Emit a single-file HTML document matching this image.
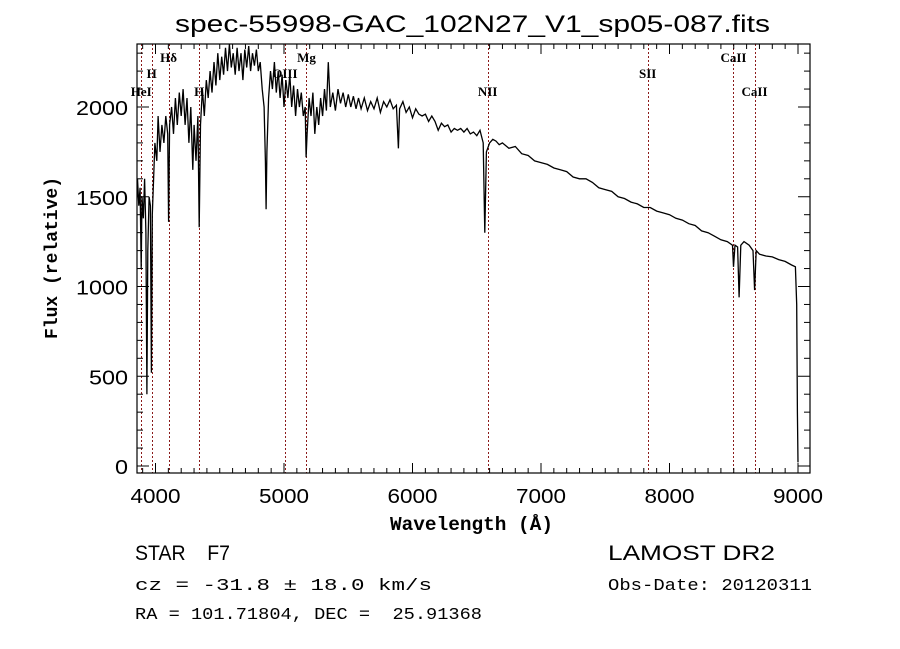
<!DOCTYPE html>
<html><head><meta charset="utf-8">
<style>
body{margin:0;background:#fff;width:900px;height:649px;overflow:hidden;font-family:"Liberation Sans",sans-serif}
svg{display:block}
.mono{font-family:"Liberation Mono",monospace}
</style></head>
<body>
<svg id="chart" width="900" height="649" xmlns="http://www.w3.org/2000/svg">
<defs><clipPath id="plotclip"><rect x="137" y="44" width="673" height="429"/></clipPath></defs>
<text x="175" y="32" font-size="24" font-family="Liberation Sans" textLength="595" lengthAdjust="spacingAndGlyphs">spec-55998-GAC_102N27_V1_sp05-087.fits</text>
<g id="lines" clip-path="url(#plotclip)"></g>
<g id="spec" clip-path="url(#plotclip)"></g>
<g id="axes"></g>
<text x="390" y="530" font-size="19" font-weight="bold" class="mono" textLength="163" lengthAdjust="spacingAndGlyphs">Wavelength (Å)</text>
<text transform="translate(57,258) rotate(-90)" text-anchor="middle" font-size="18" font-weight="bold" class="mono">Flux (relative)</text>
<text x="135" y="560" font-size="21" font-family="Liberation Sans" textLength="95" lengthAdjust="spacingAndGlyphs" xml:space="preserve">STAR    F7</text>
<text x="135" y="590" font-size="17" class="mono" textLength="297" lengthAdjust="spacingAndGlyphs">cz = -31.8 ± 18.0 km/s</text>
<text x="135" y="619" font-size="17" class="mono" textLength="347" lengthAdjust="spacingAndGlyphs" xml:space="preserve">RA = 101.71804, DEC =  25.91368</text>
<text x="608" y="560" font-size="21" font-family="Liberation Sans" textLength="167" lengthAdjust="spacingAndGlyphs">LAMOST DR2</text>
<text x="608" y="590" font-size="17" class="mono" textLength="204" lengthAdjust="spacingAndGlyphs">Obs-Date: 20120311</text>
</svg>
<script>
const wave=[3850,3860,3870,3880,3889,3895,3905,3915,3925,3933,3940,3950,3960,3968,3975,3985,3995,4010,4020,4035,4050,4065,4080,4095,4102,4110,4125,4140,4155,4170,4185,4200,4215,4230,4245,4260,4275,4290,4300,4315,4330,4340,4350,4365,4380,4395,4410,4425,4440,4455,4470,4485,4500,4515,4530,4545,4560,4575,4590,4605,4620,4635,4650,4665,4680,4695,4710,4725,4740,4755,4770,4785,4800,4815,4830,4845,4855,4861,4867,4880,4895,4910,4925,4940,4955,4970,4985,5000,5015,5030,5045,5060,5075,5090,5105,5120,5135,5150,5165,5172,5180,5195,5210,5225,5240,5255,5270,5285,5300,5315,5330,5345,5360,5380,5400,5420,5440,5460,5480,5500,5520,5540,5560,5580,5600,5625,5650,5675,5700,5725,5750,5775,5800,5825,5850,5875,5890,5900,5925,5950,5975,6000,6025,6050,6075,6100,6125,6150,6175,6200,6225,6250,6275,6300,6325,6350,6375,6400,6425,6450,6475,6500,6525,6550,6563,6575,6600,6625,6650,6675,6700,6750,6800,6850,6900,6950,7000,7050,7100,7150,7200,7250,7300,7350,7400,7450,7500,7550,7600,7650,7700,7750,7800,7850,7900,7950,8000,8050,8100,8150,8200,8250,8300,8350,8400,8450,8490,8498,8510,8530,8542,8555,8580,8620,8650,8662,8675,8700,8750,8800,8850,8900,8950,8980,8990,8995,9000];
const flux=[1350,1600,1450,1550,1100,1500,1380,1600,1300,400,1200,1500,1450,520,1400,1600,1800,1700,1950,1750,1900,1800,1950,1850,1360,1900,2000,1850,2050,1900,2080,1950,2100,1900,2050,1800,2000,1650,1900,1700,1950,1330,1900,2100,1950,2150,2050,2200,2080,2250,2120,2300,2150,2280,2180,2330,2200,2350,2220,2300,2180,2330,2200,2300,2150,2320,2220,2340,2200,2300,2230,2320,2200,2250,2100,2000,1700,1430,1750,2050,2200,2100,2250,2080,2200,2050,2180,2000,2150,2050,2180,2000,2120,1950,2100,2000,2080,1950,2000,1720,1850,2050,1950,2080,1850,2000,1900,2050,1950,2100,1980,2250,2000,2080,1980,2100,2020,2080,2000,2070,2000,2060,1990,2050,1990,2050,1980,2030,1990,2050,1970,2030,2000,2040,1990,2010,1770,1990,2030,1970,2000,1940,1990,1960,1950,1960,1920,1950,1920,1870,1910,1890,1900,1860,1880,1870,1880,1860,1880,1850,1860,1840,1870,1800,1300,1750,1800,1820,1810,1790,1800,1770,1780,1740,1730,1700,1690,1680,1660,1650,1640,1610,1600,1600,1580,1550,1540,1530,1500,1490,1470,1460,1440,1440,1420,1410,1400,1380,1370,1350,1340,1310,1300,1280,1260,1250,1230,1110,1230,1220,940,1230,1250,1230,1200,980,1200,1180,1170,1165,1150,1140,1120,1110,900,300,20];
const lineWaves=[3889,3970,4102,4340,5007,5175,6585,7830,8498,8662];
const lineNames=["HeI","H","Hδ","H","OIII","Mg","NII","SII","CaII","CaII"];
const lineLabelY=[96,78,62,96,78,62,96,78,62,96];
const xTicks=[4000,5000,6000,7000,8000,9000];
const yTicks=[0,500,1000,1500,2000];

const NS="http://www.w3.org/2000/svg";
const L=137,R=810,T=44,B=473;
function xs(w){return 155.5+(w-4000)*0.1285;}
function ys(f){return 466-f*0.1795;}
function mk(tag,attrs,parent){const e=document.createElementNS(NS,tag);for(const k in attrs)e.setAttribute(k,attrs[k]);parent.appendChild(e);return e;}
const gl=document.getElementById('lines'),gs=document.getElementById('spec'),ga=document.getElementById('axes');
const svg=document.getElementById('chart');
lineWaves.forEach((w,i)=>{
  const x=Math.round(xs(w))+0.5;
  const ln=mk('line',{x1:x,x2:x,y1:T,y2:B,stroke:'#8b1a1a','stroke-width':1,'stroke-dasharray':'2,2'},gl);
  
  
  const t=mk('text',{x:xs(w),y:lineLabelY[i],'text-anchor':'middle','font-size':13,'font-weight':'bold','font-family':'Liberation Serif'},svg);
  t.textContent=lineNames[i];
  
  
});
let d='';
wave.forEach((w,i)=>{d+=(i?'L':'M')+xs(w).toFixed(1)+','+ys(flux[i]).toFixed(1);});
const p=mk('path',{d:d,fill:'none',stroke:'#000','stroke-width':1.3},gs);


const fr=mk('rect',{x:L,y:T,width:R-L,height:B-T,fill:'none',stroke:'#000','stroke-width':1.2},ga);


for(let w=3900;w<=9000;w+=100){
  const maj=w%1000===0,len=maj?10:5,x=xs(w);
  mk('line',{x1:x,x2:x,y1:B,y2:B-len,stroke:'#000'},ga);
  mk('line',{x1:x,x2:x,y1:T,y2:T+len,stroke:'#000'},ga);
}
for(let f=0;f<=2300;f+=100){
  const maj=f%500===0,len=maj?12:6,y=ys(f);
  mk('line',{x1:L,x2:L+len,y1:y,y2:y,stroke:'#000'},ga);
  mk('line',{x1:R,x2:R-len,y1:y,y2:y,stroke:'#000'},ga);
}
xTicks.forEach(v=>{
  const s=String(v);
  const t=mk('text',{x:xs(v)-25,y:503,'font-size':20,textLength:50,lengthAdjust:'spacingAndGlyphs'},ga);
  t.textContent=s;
  
  
});
yTicks.forEach(v=>{
  const s=String(v);
  const w=13*s.length;
  const t=mk('text',{x:128-w,y:ys(v)+8,'font-size':20,textLength:w,lengthAdjust:'spacingAndGlyphs'},ga);
  t.textContent=s;
  
  
});
</script>
</body></html>
